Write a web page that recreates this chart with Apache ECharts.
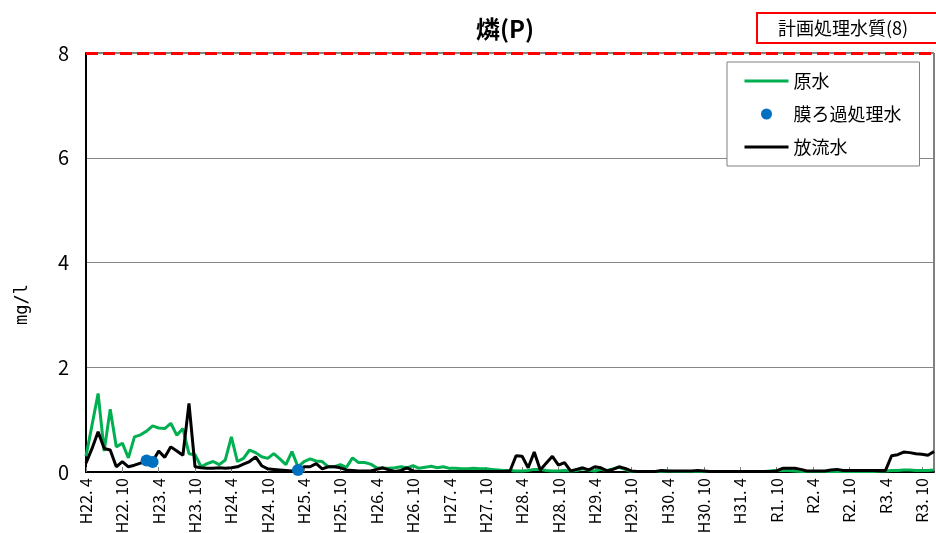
<!DOCTYPE html>
<html>
<head>
<meta charset="utf-8">
<script src="https://cdn.jsdelivr.net/npm/echarts@6/dist/echarts.min.js"></script>
<style>
html,body{margin:0;padding:0;background:#fff;}
#chart{width:936px;height:533px;}
</style>
</head>
<body>
<div id="chart"></div>
<script>
// ---- data ----
// monthly categories from H22.4 to R3.12
const startYear = 2010, startMonth = 4, monthCount = 141;
const categories = [];
for (let i = 0; i < monthCount; i++) {
  const t = (startYear * 12 + (startMonth - 1)) + i;
  const y = Math.floor(t / 12), m = t % 12 + 1;
  let label;
  if (y < 2019 || (y === 2019 && m <= 4)) label = 'H' + (y - 1988) + '. ' + m;
  else label = 'R' + (y - 2018) + '. ' + m;
  categories.push(label);
}

const rawWater = [
  0.30,0.90,1.50,0.40,1.20,0.48,0.55,0.27,0.67,0.71,
  0.78,0.88,0.84,0.83,0.93,0.70,0.83,0.35,0.33,0.10,
  0.16,0.20,0.14,0.23,0.67,0.20,0.26,0.42,0.37,0.29,
  0.26,0.35,0.25,0.14,0.39,0.10,0.20,0.25,0.21,0.20,
  0.10,0.10,0.14,0.09,0.27,0.18,0.18,0.15,0.08,0.07,
  0.07,0.08,0.10,0.08,0.12,0.07,0.09,0.11,0.08,0.10,
  0.07,0.07,0.06,0.06,0.07,0.06,0.06,0.05,0.04,0.03,
  0.03,0.02,0.02,0.03,0.05,0.05,0.03,0.02,0.02,0.03,
  0.02,0.03,0.06,0.04,0.02,0.05,0.03,0.06,0.09,0.05,
  0.01,0.01,0.01,0.01,0.01,0.01,0.02,0.01,0.01,0.01,
  0.01,0.01,0.01,0.01,0.01,0.01,0.01,0.01,0.01,0.01,
  0.01,0.01,0.01,0.02,0.03,0.03,0.03,0.02,0.01,0.01,
  0.01,0.01,0.01,0.01,0.01,0.01,0.01,0.01,0.01,0.01,
  0.01,0.02,0.02,0.03,0.03,0.04,0.04,0.03,0.03,0.03,
  0.04
];

const dischargeWater = [
  0.17,0.45,0.77,0.45,0.42,0.10,0.20,0.10,0.13,0.17,
  0.20,0.20,0.40,0.28,0.48,0.40,0.32,1.31,0.10,0.08,
  0.07,0.07,0.08,0.07,0.08,0.10,0.15,0.20,0.29,0.12,
  0.06,0.05,0.04,0.03,0.02,0.02,0.10,0.10,0.16,0.06,
  0.10,0.10,0.08,0.04,0.03,0.02,0.02,0.02,0.05,0.08,
  0.04,0.01,0.03,0.08,0.02,0.01,0.01,0.01,0.01,0.01,
  0.01,0.01,0.01,0.01,0.01,0.01,0.01,0.01,0.01,0.01,
  0.02,0.31,0.30,0.08,0.38,0.04,0.17,0.30,0.13,0.18,
  0.02,0.05,0.08,0.04,0.10,0.08,0.02,0.05,0.10,0.07,
  0.02,0.01,0.01,0.01,0.01,0.03,0.02,0.02,0.02,0.02,
  0.02,0.03,0.02,0.01,0.01,0.01,0.01,0.01,0.01,0.01,
  0.01,0.01,0.01,0.01,0.02,0.07,0.07,0.07,0.05,0.02,
  0.02,0.02,0.02,0.04,0.05,0.03,0.03,0.03,0.03,0.03,
  0.03,0.03,0.03,0.31,0.33,0.38,0.37,0.35,0.34,0.32,
  0.39
];

const membraneMonths = ['H23. 2', 'H23. 3', 'H25. 3'];
const membraneValues = [0.22, 0.19, 0.04];

const yTicks = [0, 2, 4, 6, 8];
const planLimit = 8;

// ---- chart ----
const FONT = '"Noto Sans CJK JP", "Noto Sans", sans-serif';
const chart = echarts.init(document.getElementById('chart'), null, {renderer: 'canvas'});

const option = {
  backgroundColor: '#fff',
  animation: false,
  title: [
    {
      text: '燐(P)', left: 471, top: 12,
      textStyle: {fontFamily: FONT, fontSize: 24, fontWeight: 'bold', color: '#000'}
    },
    {
      text: '計画処理水質(' + planLimit + ')', left: 757, top: 13,
      padding: [6, 30, 6, 21],
      borderColor: '#ff0000', borderWidth: 2,
      textStyle: {fontFamily: FONT, fontSize: 18, fontWeight: 'normal', color: '#000'}
    }
  ],
  legend: {
    orient: 'vertical', left: 727, top: 62,
    padding: [10, 18, 10, 16],
    itemWidth: 44, itemHeight: 11, itemGap: 15,
    backgroundColor: '#fff', borderColor: '#808080', borderWidth: 1,
    textStyle: {fontFamily: FONT, fontSize: 18, color: '#000'},
    data: [
      {name: '原水', itemStyle: {opacity: 0}, lineStyle: {width: 3, color: '#00b050'}},
      {name: '膜ろ過処理水'},
      {name: '放流水', itemStyle: {opacity: 0}, lineStyle: {width: 3, color: '#000'}}
    ]
  },
  grid: {
    left: 86, right: 2, top: 53, bottom: 61,
    outerBoundsMode: 'none', containLabel: false,
    show: true, borderColor: '#000', borderWidth: 1, backgroundColor: 'transparent'
  },
  xAxis: {
    type: 'category', data: categories, boundaryGap: false,
    axisLine: {lineStyle: {color: '#000', width: 2}},
    axisTick: {show: true, inside: true, length: 5, interval: 5, lineStyle: {color: '#808080'}},
    axisLabel: {
      interval: 5, rotate: 90, margin: 6,
      fontFamily: FONT, fontSize: 16, color: '#000'
    },
    splitLine: {show: false}
  },
  yAxis: {
    type: 'value', min: yTicks[0], max: yTicks[yTicks.length - 1], interval: 2,
    axisLine: {show: true, lineStyle: {color: '#000', width: 2}},
    axisTick: {show: false},
    axisLabel: {fontFamily: FONT, fontSize: 20, color: '#000', margin: 17},
    splitLine: {show: true, lineStyle: {color: '#868686', width: 1}}
  },
  graphic: [
    {
      type: 'text', left: 14, top: 284, rotation: Math.PI / 2,
      style: {text: 'mg/l', fontFamily: '"DejaVu Sans Mono", monospace', fontSize: 17, fill: '#000'}
    }
  ],
  series: [
    {
      name: '原水', type: 'line', data: rawWater,
      symbol: 'none', showSymbol: false,
      lineStyle: {color: '#00b050', width: 3},
      itemStyle: {color: '#00b050'},
      z: 2,
      markLine: {
        silent: true, symbol: 'none',
        label: {show: false},
        lineStyle: {color: '#ff0000', type: [12, 5], width: 3},
        data: [{yAxis: planLimit}]
      }
    },
    {
      name: '膜ろ過処理水', type: 'scatter',
      data: membraneMonths.map((m, i) => [m, membraneValues[i]]),
      symbol: 'circle', symbolSize: 12,
      itemStyle: {color: '#0070c0', opacity: 1},
      z: 4
    },
    {
      name: '放流水', type: 'line', data: dischargeWater,
      symbol: 'none', showSymbol: false,
      lineStyle: {color: '#000', width: 3},
      itemStyle: {color: '#000'},
      z: 3
    }
  ]
};
chart.setOption(option);
</script>
</body>
</html>
